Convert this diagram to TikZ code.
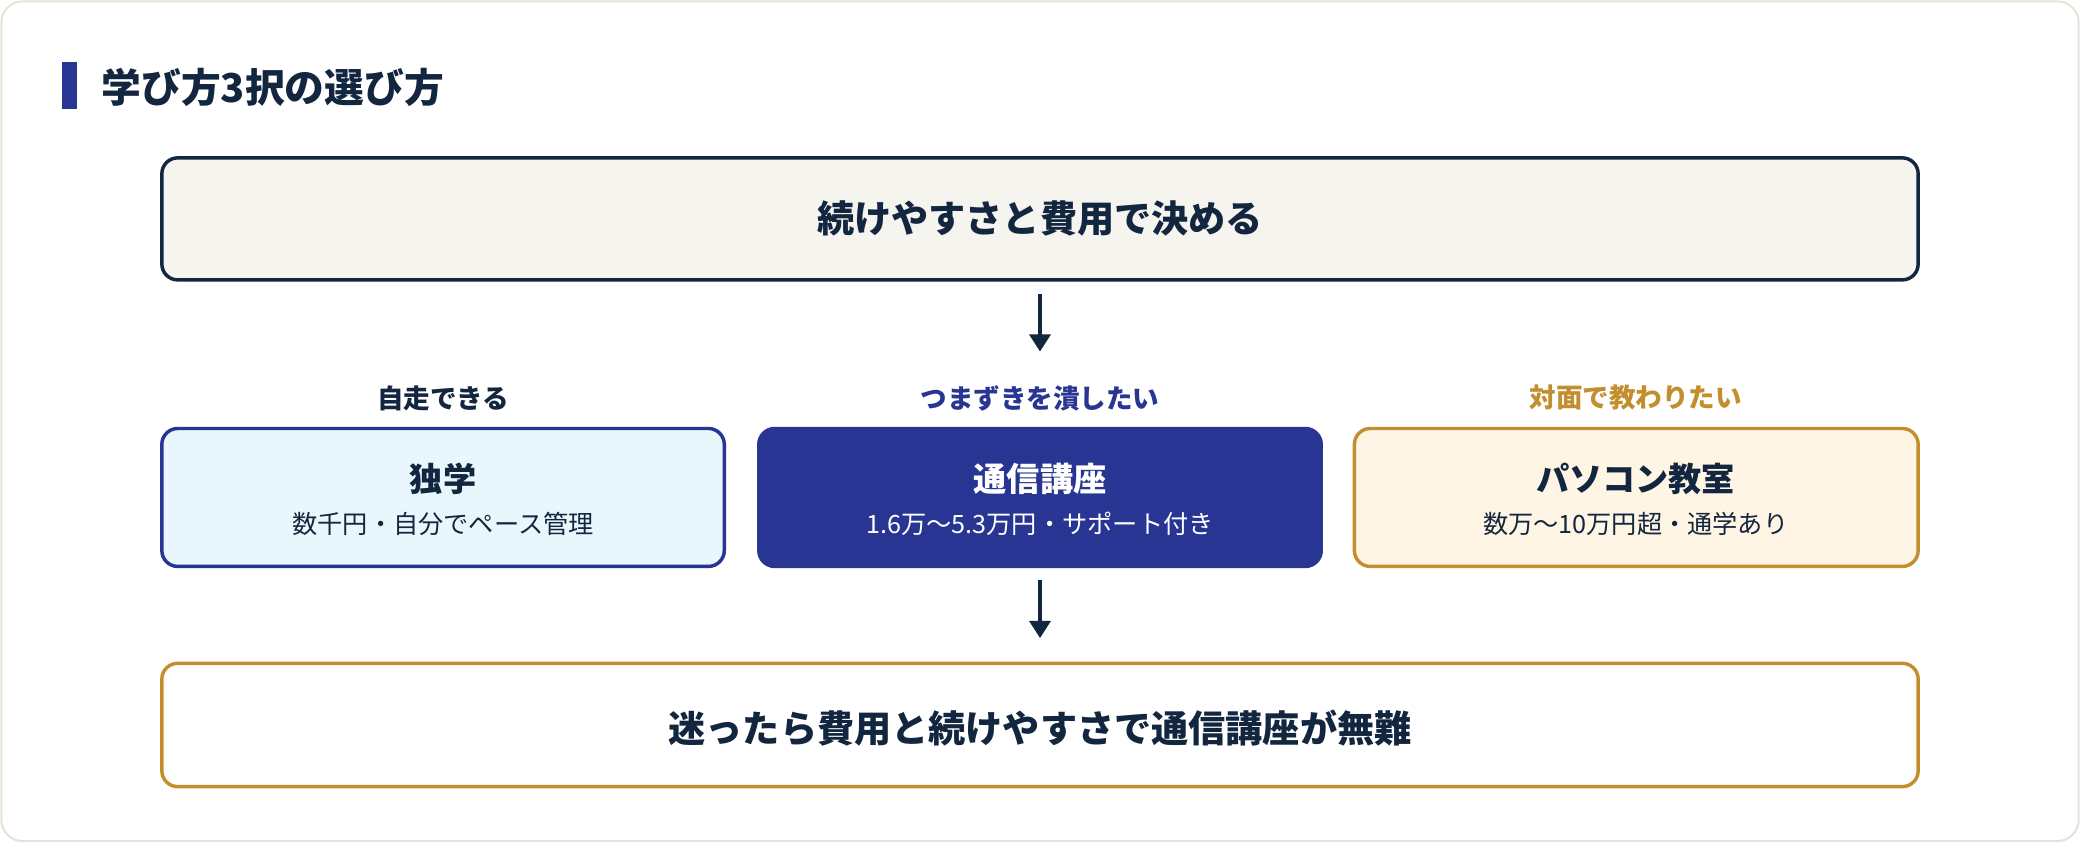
\documentclass[tikz,border=0pt]{standalone}
\usepackage{fontspec}
\setmainfont{Noto Sans CJK JP}
\usetikzlibrary{arrows.meta}
\definecolor{navy}{HTML}{13263F}
\definecolor{indigo}{HTML}{283593}
\definecolor{gold}{HTML}{C38F2E}
\definecolor{cream}{HTML}{F5F4EE}
\definecolor{skyf}{HTML}{E9F7FC}
\definecolor{peach}{HTML}{FFF5E4}
\definecolor{frame}{HTML}{E5E2D6}
\newcommand{\fs}[1]{\fontsize{#1pt}{#1pt}\selectfont}
\tikzset{x=1pt,y=-1pt,
 box/.style={rounded corners=12pt,line width=2.6pt},
 arr/.style={navy,line width=2.4pt,-{Triangle[length=13pt,width=16pt]}},
 lab/.style={font=\fs{20}\bfseries}}
\begin{document}
\begin{tikzpicture}
\useasboundingbox (0,0) rectangle (1568,635);
\draw[frame,line width=1.5pt,fill=white,rounded corners=16pt] (1,1) rectangle (1567,634);
\fill[indigo] (47,47) rectangle (58,82);
\node[anchor=west,text=navy,font=\fs{30}\bfseries] (title) at (73,66) {学び方3択の選び方};
\draw[box,navy,fill=cream] (122,119) rectangle (1446,211);
\node[text=navy,font=\fs{28}\bfseries] (top) at (784,165) {続けやすさと費用で決める};
\coordinate (a1s) at (784,222); \coordinate (a1e) at (784,265);
\draw[arr] (a1s) -- (a1e);
\node[lab,text=navy] (l1) at (334,300) {自走できる};
\node[lab,text=indigo] (l2) at (784,300) {つまずきを潰したい};
\node[lab,text=gold] (l3) at (1233,300) {対面で教わりたい};
\draw[box,indigo,fill=skyf] (122,323) rectangle (546,427);
\draw[box,indigo,fill=indigo] (572,323) rectangle (996,427);
\draw[box,gold,fill=peach] (1021,323) rectangle (1446,427);
\node[text=navy,font=\fs{25}\bfseries] (b1) at (334,361) {独学};
\node[text=navy,font=\fs{19}] (s1) at (334,395) {数千円・自分でペース管理};
\node[text=white,font=\fs{25}\bfseries] (b2) at (784,361) {通信講座};
\node[text=white,font=\fs{19}] (s2) at (784,395) {1.6万〜5.3万円・サポート付き};
\node[text=navy,font=\fs{25}\bfseries] (b3) at (1233,361) {パソコン教室};
\node[text=navy,font=\fs{19}] (s3) at (1233,395) {数万〜10万円超・通学あり};
\coordinate (a2s) at (784,437); \coordinate (a2e) at (784,481);
\draw[arr] (a2s) -- (a2e);
\draw[box,gold,fill=white] (122,500) rectangle (1446,593);
\node[text=navy,font=\fs{28}\bfseries] (bot) at (784,549) {迷ったら費用と続けやすさで通信講座が無難};
\end{tikzpicture}
\end{document}
